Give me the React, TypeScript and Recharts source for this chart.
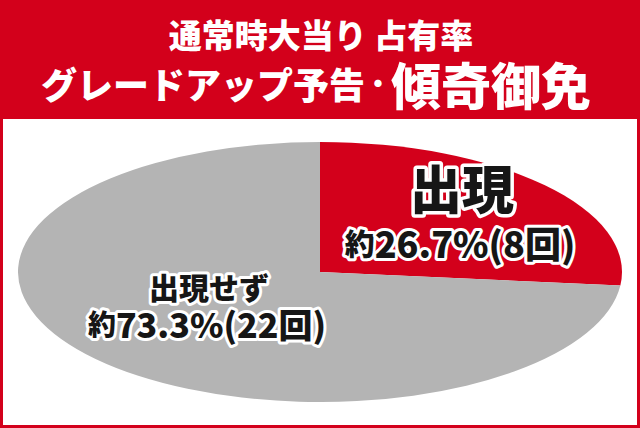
import React from 'react';
import { PieChart, Pie, Cell } from 'recharts';

// 通常時大当り30回のうち、グレードアップ予告・傾奇御免の出現回数
const categories = ['出現', '出現せず'];
const counts = [8, 22];
const sliceColors = ['#d3001b', '#b4b4b4'];

const titleLine1 = '通常時大当り 占有率';
const titleLine2a = 'グレードアップ予告';
const titleLine2dot = '・';
const titleLine2b = '傾奇御免';

const RED = '#d3001b';
const FONT = '"Noto Sans CJK JP", "Noto Sans", sans-serif';

const total = counts.reduce((a, b) => a + b, 0);
const pieData = categories.map((name, i) => ({ name, value: counts[i] }));

// pie is drawn as a circle and stretched into the ellipse
const R = 130;
const RX = 302;

const OutlinedText = ({ x, y, size, children, stroke = 6 }: any) => (
  <text
    x={x}
    y={y}
    textAnchor="middle"
    dominantBaseline="central"
    fontFamily={FONT}
    fontWeight={900}
    fontSize={size}
    fill="#161616"
    stroke="#ffffff"
    strokeWidth={stroke}
    strokeLinejoin="round"
    paintOrder="stroke"
  >
    {children}
  </text>
);

const SliceLabel = ({ x, y, idx }: { x: number; y: number; idx: number }) => {
  const pct = ((counts[idx] / total) * 100).toFixed(1);
  const big = idx === 0;
  const numSize = big ? 36 : 34;
  return (
    <g>
      <OutlinedText x={x} y={y} size={big ? 52 : 30} stroke={big ? 7 : 6}>
        {categories[idx]}
      </OutlinedText>
      <OutlinedText x={x - 2} y={y + (big ? 56 : 37)} size={numSize}>
        <tspan fontSize={numSize - 6}>約</tspan>
        {`${pct}%(${counts[idx]}回)`}
      </OutlinedText>
    </g>
  );
};

export default function App() {
  return (
    <div style={{ width: 640, height: 428, position: 'relative', background: RED, overflow: 'hidden' }}>
      <style>{`body{margin:0}`}</style>
      <div style={{ position: 'absolute', left: 3, top: 119, width: 634, height: 306, background: '#ffffff' }} />
      <div
        style={{
          position: 'absolute',
          left: 320 - R,
          top: 272 - R,
          width: R * 2,
          height: R * 2,
          transform: `scaleX(${RX / R})`,
          transformOrigin: 'center center',
        }}
      >
        <PieChart width={R * 2} height={R * 2} margin={{ top: 0, right: 0, bottom: 0, left: 0 }}>
          <Pie
            data={pieData}
            dataKey="value"
            nameKey="name"
            cx={R}
            cy={R}
            outerRadius={R}
            innerRadius={0}
            startAngle={90}
            endAngle={-270}
            stroke="none"
            isAnimationActive={false}
          >
            {pieData.map((_entry, index) => (
              <Cell key={`cell-${index}`} fill={sliceColors[index]} />
            ))}
          </Pie>
        </PieChart>
      </div>
      <svg width={640} height={428} style={{ position: 'absolute', left: 0, top: 0 }}>
        <text
          x={321}
          y={34}
          textAnchor="middle"
          dominantBaseline="central"
          fontFamily={FONT}
          fontWeight={900}
          fontSize={33}
          fill="#ffffff"
        >
          {titleLine1}
        </text>
        <text
          x={316}
          y={83}
          textAnchor="middle"
          dominantBaseline="central"
          fontFamily={FONT}
          fontWeight={900}
          fontSize={36}
          fill="#ffffff"
        >
          {titleLine2a}
          <tspan fontSize={26} dy={-2}>{titleLine2dot}</tspan>
          <tspan fontSize={50} dy={2}>{titleLine2b}</tspan>
        </text>
        <SliceLabel x={462} y={186} idx={0} />
        <SliceLabel x={209} y={286} idx={1} />
      </svg>
    </div>
  );
}
